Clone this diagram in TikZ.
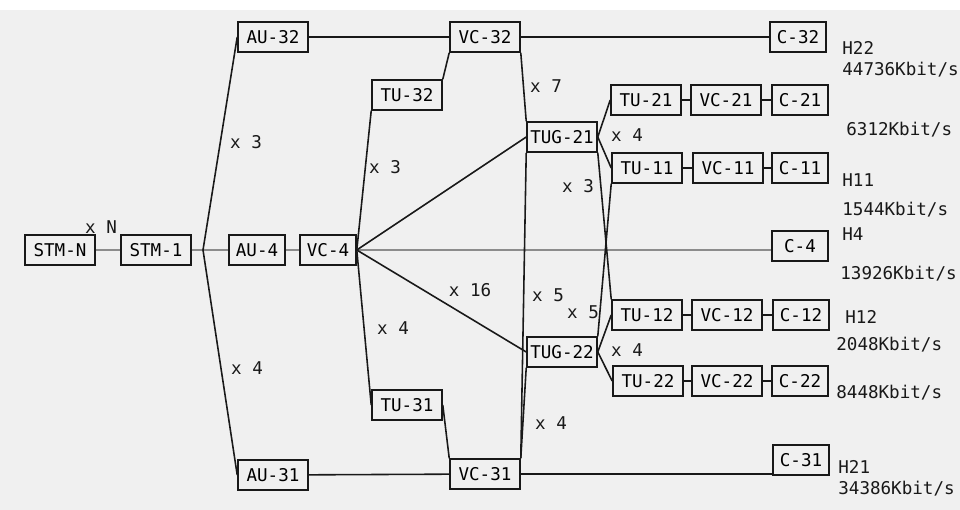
\documentclass[tikz,border=0pt]{standalone}
\usepackage{fontspec}
\setmonofont{DejaVu Sans Mono}
\usepackage{tikz}
\usetikzlibrary{positioning,calc}
\usepackage{xcolor}
\definecolor{paper}{RGB}{240,240,240}
\definecolor{ink}{RGB}{25,25,25}
\definecolor{faint}{RGB}{140,140,140}

\begin{document}
\begin{tikzpicture}[x=0.02cm, y=-0.02cm,
    unitbox/.style={rectangle, draw=ink, line width=0.9pt, minimum width=1.4cm,
        minimum height=0.6cm, inner xsep=1pt, font=\ttfamily\fontsize{10}{12}\selectfont},
    shortbox/.style={unitbox, minimum width=1.12cm},
    mult/.style={font=\ttfamily\fontsize{10}{12}\selectfont, text=ink},
    rate/.style={anchor=west, inner sep=0pt, font=\ttfamily\fontsize{10}{12}\selectfont, text=ink},
    link/.style={line width=0.9pt, ink},
    thinlink/.style={line width=0.8pt, faint}
]
    \useasboundingbox (0,0) rectangle (960,510);
    \fill[paper] (0,10) rectangle (960,510);

    % STM side
    \node[unitbox] (stmn) at (60,250) {STM-N};
    \node[unitbox] (stm1) at (156,250) {STM-1};
    \coordinate (br) at (203,250);
    \node[mult] (xn) at (101,227) {x N};

    % AU / VC-4 column
    \node[unitbox] (au32) at (273,37) {AU-32};
    \node[shortbox] (au4) at (257,250) {AU-4};
    \node[shortbox] (vc4) at (328,250) {VC-4};
    \node[unitbox] (au31) at (273,475) {AU-31};

    % TU-3x and VC-3x
    \node[unitbox] (tu32) at (407,95) {TU-32};
    \node[unitbox] (tu31) at (407,405) {TU-31};
    \node[unitbox] (vc32) at (485,37) {VC-32};
    \node[unitbox] (vc31) at (485,474) {VC-31};

    % TUGs
    \node[unitbox] (tug21) at (562,137) {TUG-21};
    \node[unitbox] (tug22) at (562,352) {TUG-22};

    % TU / VC / C rows
    \node[unitbox] (tu21) at (646,100) {TU-21};
    \node[unitbox] (vc21) at (726,100) {VC-21};
    \node[shortbox] (c21) at (800,100) {C-21};
    \node[unitbox] (tu11) at (647,168) {TU-11};
    \node[unitbox] (vc11) at (728,168) {VC-11};
    \node[shortbox] (c11) at (800,168) {C-11};
    \node[unitbox] (tu12) at (647,315) {TU-12};
    \node[unitbox] (vc12) at (727,315) {VC-12};
    \node[shortbox] (c12) at (801,315) {C-12};
    \node[unitbox] (tu22) at (648,381) {TU-22};
    \node[unitbox] (vc22) at (727,381) {VC-22};
    \node[shortbox] (c22) at (800,381) {C-22};
    \node[shortbox] (c32) at (798,37) {C-32};
    \node[shortbox] (c4) at (800,246) {C-4};
    \node[shortbox] (c31) at (801,460) {C-31};

    % rates
    \node[rate] (h22) at (842,48) {H22};
    \node[rate] (r22) at (842,70) {44736Kbit/s};
    \node[rate] (r21c) at (846,130) {6312Kbit/s};
    \node[rate] (h11) at (842,180) {H11};
    \node[rate] (r11) at (842,210) {1544Kbit/s};
    \node[rate] (h4) at (842,234) {H4};
    \node[rate] (r4) at (840,274) {13926Kbit/s};
    \node[rate] (h12) at (845,317) {H12};
    \node[rate] (r12) at (836,345) {2048Kbit/s};
    \node[rate] (r22c) at (836,393) {8448Kbit/s};
    \node[rate] (h21) at (838,467) {H21};
    \node[rate] (r31) at (838,489) {34386Kbit/s};

    % multiplexing factors
    \node[mult] (m1) at (246,142) {x 3};
    \node[mult] (m2) at (247,368) {x 4};
    \node[mult] (m3) at (385,167) {x 3};
    \node[mult] (m4) at (393,328) {x 4};
    \node[mult] (m5) at (470,290) {x 16};
    \node[mult] (m6) at (546,86) {x 7};
    \node[mult] (m7) at (627,135) {x 4};
    \node[mult] (m8) at (578,186) {x 3};
    \node[mult] (m9) at (548,295) {x 5};
    \node[mult] (m10) at (583,312) {x 5};
    \node[mult] (m11) at (627,350) {x 4};
    \node[mult] (m12) at (551,423) {x 4};

    % connectors
    \draw[thinlink] (stmn) -- (stm1);
    \draw[thinlink] (stm1) -- (br) -- (au4);
    \draw[thinlink] (au4) -- (vc4);
    \draw[thinlink] (vc4.east) -- (vc4.east -| c4.west);
    \draw[link] (au32.west) -- (br) -- (au31.west);
    \draw[link] (au32) -- (vc32);
    \draw[link] (vc32) -- (c32);
    \draw[link] (au31) -- (vc31);
    \draw[link] (vc31.east) -- (vc31.east -| c31.west);

    \draw[link] (vc4.east) -- (tu32.south west);
    \draw[link] (vc4.east) -- (tug21.west);
    \draw[link] (vc4.east) -- (tug22.west);
    \draw[link] (vc4.east) -- (tu31.west);
    \draw[link] (tu32.north east) -- (vc32.south west);
    \draw[link] (tu31.east) -- (vc31.north west);

    \draw[link] (vc32.south east) -- (tug21.north west);
    \draw[link] (tug21.south west) -- (vc31.north east);
    \draw[link] (tug22.south west) -- (vc31.north east);

    \draw[link] (tug21.east) -- (tu21.west);
    \draw[link] (tug21.east) -- (tu11.west);
    \draw[link] (tug21.south east) -- (tu12.north west);
    \draw[link] (tug22.north east) -- (tu11.south west);
    \draw[link] (tug22.east) -- (tu12.west);
    \draw[link] (tug22.east) -- (tu22.west);

    \draw[link] (tu21) -- (vc21);
    \draw[link] (vc21) -- (c21);
    \draw[link] (tu11) -- (vc11);
    \draw[link] (vc11) -- (c11);
    \draw[link] (tu12) -- (vc12);
    \draw[link] (vc12) -- (c12);
    \draw[link] (tu22) -- (vc22);
    \draw[link] (vc22) -- (c22);
\end{tikzpicture}
\end{document}
